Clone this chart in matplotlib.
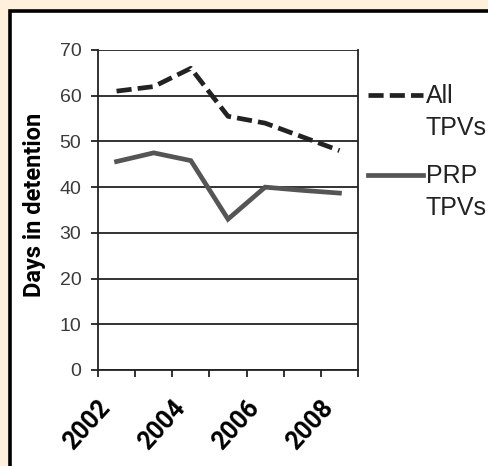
import matplotlib.pyplot as plt
import numpy as np
from matplotlib.patches import Rectangle
from matplotlib.lines import Line2D
from matplotlib.transforms import ScaledTranslation

# data
years = ['2002', '2003', '2004', '2005', '2006', '2007', '2008']
all_tpvs = [61, 62, 66, 55.5, 54, 51, 48]
prp_tpvs = [45.6, 47.5, 45.8, 33, 40, 39.3, 38.7]
series_labels = ['All\nTPVs', 'PRP\nTPVs']
y_ticks = [0, 10, 20, 30, 40, 50, 60, 70]

W, H = 489, 466
fig = plt.figure(figsize=(W / 100, H / 100), dpi=100)
fig.patch.set_facecolor('#FEF0DA')

# white panel with black frame (runs off right/bottom edge)
fig.patches.append(Rectangle((10 / W, -0.1), 1.2, (H - 10.5) / H + 0.1,
                             transform=fig.transFigure, facecolor='white',
                             edgecolor='black', linewidth=2.6, zorder=-1))

ax = fig.add_axes([98 / W, 1 - 370 / H, 260 / W, 320 / H])
ax.set_facecolor('none')

x = np.arange(len(years))
ax.plot(x, all_tpvs, color='#222222', lw=3.4, dashes=(3.2, 1.3),
        solid_capstyle='butt', dash_capstyle='butt')
ax.plot(x, prp_tpvs, color='#555555', lw=3.4, solid_joinstyle='miter')

ax.set_xlim(-0.5, len(years) - 0.5)
ax.set_ylim(0, 70)

# grid lines
for v in y_ticks:
    ax.axhline(v, color='#222222', lw=1.3, zorder=0)

for s in ['left', 'right', 'bottom']:
    ax.spines[s].set_color('#222222')
    ax.spines[s].set_linewidth(1.3)
ax.spines['top'].set_visible(False)

ax.set_yticks(y_ticks)
ax.set_yticklabels([str(v) for v in y_ticks], fontsize=14,
                   family='Liberation Sans', color='#3a3a3a')
ax.tick_params(axis='y', length=5, width=1.3, color='#222222', pad=7)

# category boundary ticks + every-other year labels
ax.set_xticks(np.arange(-0.5, len(years)), [])
ax.tick_params(axis='x', which='major', length=5, width=1.3, color='#222222')
ax.set_xticks(x[::2], [years[i] for i in x[::2]], minor=True)
ax.tick_params(axis='x', which='minor', length=0, pad=9)
for lab in ax.get_xticklabels(minor=True):
    lab.set_rotation(48)
    lab.set_ha('right')
    lab.set_va('top')
    lab.set_rotation_mode('anchor')
    lab.set_fontsize(18)
    lab.set_fontweight('bold')
    lab.set_family('Roboto')
    lab.set_transform(lab.get_transform() + ScaledTranslation(-19 / 100, -13 / 100, fig.dpi_scale_trans))

fig.text(35 / W, 1 - 205 / H, 'Days in detention', rotation=90, ha='center',
         va='center', fontsize=17, fontweight='bold', family='Roboto')

# legend drawn by hand
leg_y = [95, 175]
styles = [dict(color='#222222', dashes=(3.2, 1.3)), dict(color='#555555')]
for lbl, yy, st in zip(series_labels, leg_y, styles):
    fig.lines.append(Line2D([368 / W, 423 / W], [1 - yy / H, 1 - yy / H],
                            transform=fig.transFigure, lw=3.4, **st))
    for i, line in enumerate(lbl.split('\n')):
        fig.text(426 / W, 1 - (yy + 8 + 32 * i) / H, line, fontsize=18,
                 family='Liberation Sans', color='#222222', va='baseline')

plt.savefig('out.png', dpi=100)
